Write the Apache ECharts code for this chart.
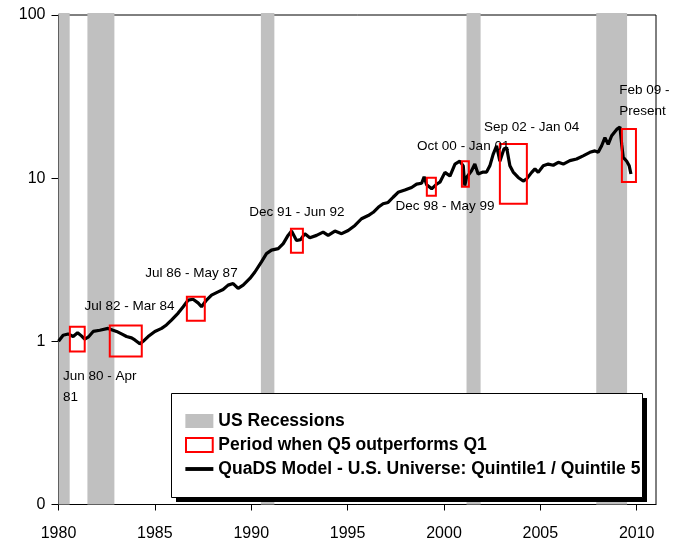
<!DOCTYPE html>
<html>
<head>
<meta charset="utf-8">
<script src="https://cdn.jsdelivr.net/npm/echarts@6/dist/echarts.min.js"></script>
<style>
  html, body { margin: 0; padding: 0; background: #fff; }
  #chart { width: 692px; height: 547px; }
</style>
</head>
<body>
<div id="chart"></div>
<script>
// QuaDS model ratio (decimal year, ratio)
var years = [
  1980.0, 1980.24, 1980.5, 1980.76, 1980.99, 1981.19, 1981.36, 1981.54, 1981.8, 1982.14,
  1982.57, 1982.83, 1983.01, 1983.27, 1983.53, 1983.79, 1983.96, 1984.22, 1984.39, 1984.65,
  1985.0, 1985.35, 1985.6, 1985.86, 1986.21, 1986.47, 1986.73, 1986.98, 1987.24, 1987.42,
  1987.68, 1987.94, 1988.28, 1988.54, 1988.8, 1989.06, 1989.32, 1989.58, 1989.93, 1990.19,
  1990.53, 1990.79, 1991.05, 1991.4, 1991.66, 1991.91, 1992.09, 1992.35, 1992.56, 1992.78,
  1993.04, 1993.39, 1993.73, 1993.99, 1994.34, 1994.69, 1995.03, 1995.38, 1995.72, 1996.07,
  1996.33, 1996.59, 1996.84, 1997.1, 1997.36, 1997.62, 1997.97, 1998.32, 1998.58, 1998.84,
  1998.97, 1999.1, 1999.36, 1999.62, 1999.79, 2000.05, 2000.31, 2000.57, 2000.82, 2001.0,
  2001.08, 2001.17, 2001.43, 2001.6, 2001.77, 2002.03, 2002.21, 2002.38, 2002.55, 2002.73,
  2002.9, 2003.11, 2003.25, 2003.42, 2003.59, 2003.85, 2004.11, 2004.29, 2004.55, 2004.72,
  2004.89, 2005.15, 2005.41, 2005.67, 2005.93, 2006.19, 2006.53, 2006.88, 2007.22, 2007.57,
  2007.83, 2008.0, 2008.18, 2008.35, 2008.52, 2008.7, 2008.96, 2009.13, 2009.22, 2009.3,
  2009.48, 2009.61, 2009.7
];
var ratio = [
  1.0, 1.09, 1.11, 1.07, 1.13, 1.08, 1.03, 1.06, 1.15, 1.17,
  1.20, 1.17, 1.15, 1.11, 1.07, 1.05, 1.02, 0.965, 1.0, 1.07,
  1.15, 1.20, 1.26, 1.35, 1.49, 1.63, 1.79, 1.81, 1.72, 1.63,
  1.79, 1.92, 2.01, 2.08, 2.21, 2.26, 2.11, 2.21, 2.43, 2.66,
  3.07, 3.45, 3.62, 3.70, 3.97, 4.46, 4.74, 4.15, 4.2, 4.57,
  4.32, 4.46, 4.67, 4.46, 4.74, 4.57, 4.78, 5.13, 5.64, 5.9,
  6.18, 6.63, 6.97, 7.1, 7.64, 8.19, 8.45, 8.77, 9.2, 9.31,
  10.2, 9.1, 8.6, 9.2, 9.45, 10.85, 10.3, 12.2, 12.7, 11.9,
  9.0, 10.1, 11.1, 12.2, 10.6, 10.9, 10.9, 11.9, 14.0, 15.8,
  12.7, 15.1, 15.4, 11.9, 10.9, 10.1, 9.6, 9.9, 10.85, 11.4,
  10.85, 11.9, 12.2, 12.0, 12.5, 12.2, 12.8, 13.1, 13.7, 14.4,
  14.7, 14.4, 15.8, 17.7, 16.1, 18.2, 19.9, 20.6, 16.1, 13.4,
  12.7, 11.9, 10.6
];

// US recessions: start, end
var recessionStart = [1980.0, 1981.5, 1990.5, 2001.17, 2007.9];
var recessionEnd = [1980.58, 1982.9, 1991.2, 2001.9, 2009.5];

// periods when Q5 outperforms Q1: x from, x to, ratio low, ratio high
var boxFrom = [1980.59, 1982.66, 1986.66, 1992.06, 1999.11, 2000.93, 2002.9, 2009.23];
var boxTo = [1981.36, 1984.32, 1987.59, 1992.68, 1999.58, 2001.29, 2004.3, 2009.96];
var boxLow = [0.865, 0.806, 1.339, 3.49, 7.8, 8.87, 6.96, 9.48];
var boxHigh = [1.23, 1.25, 1.877, 4.9, 10.06, 12.7, 16.2, 20.0];

// annotations
var noteText = ['Jun 80 - Apr\n81', 'Jul 82 - Mar 84', 'Jul 86 - May 87', 'Dec 91 - Jun 92',
  'Dec 98 - May 99', 'Oct 00 - Jan 01', 'Sep 02 - Jan 04', 'Feb 09 -\nPresent'];
var noteX = [1980.23, 1983.68, 1986.9, 1992.37, 2000.05, 2001.0, 2004.55, 2009.09];
var noteY = [0.527, 1.638, 2.62, 6.17, 6.77, 15.6, 20.6, 29.7];
var noteAlign = ['left', 'center', 'center', 'center', 'center', 'center', 'center', 'left'];

var xTicks = [1980, 1985, 1990, 1995, 2000, 2005, 2010];

var FONT = 'Liberation Sans, Arial, sans-serif';
var chart = echarts.init(document.getElementById('chart'));

var lineData = years.map(function (y, i) { return [y, ratio[i]]; });
var recData = recessionStart.map(function (s, i) { return [s, recessionEnd[i]]; });
var boxData = boxFrom.map(function (f, i) { return [f, boxTo[i], boxLow[i], boxHigh[i]]; });
var noteData = noteX.map(function (x, i) { return [x, noteY[i], i]; });

chart.setOption({
  animation: false,
  textStyle: { fontFamily: FONT },
  grid: {
    left: 58.5,
    right: 36,
    top: 15,
    bottom: 42.5,
    show: true,
    borderColor: '#000',
    borderWidth: 1
  },
  // legend frame with its hard drop shadow
  graphic: [
    { type: 'rect', z: 100, shape: { x: 176, y: 398, width: 471, height: 104 }, style: { fill: '#000' } },
    { type: 'rect', z: 101, shape: { x: 171.5, y: 393.5, width: 471, height: 104 },
      style: { fill: '#fff', stroke: '#000', lineWidth: 1 } }
  ],
  legend: {
    orient: 'vertical',
    left: 185,
    top: 412,
    padding: 0,
    z: 110,
    itemGap: 6,
    itemWidth: 28,
    itemHeight: 14,
    selectedMode: false,
    textStyle: { fontFamily: FONT, fontSize: 17.5, fontWeight: 'bold', color: '#000' },
    data: [
      { name: 'US Recessions', icon: 'rect', itemStyle: { color: '#c0c0c0' } },
      { name: 'Period when Q5 outperforms Q1', icon: 'path://M0,0H21V11H0Z',
        itemStyle: { color: '#fff', borderColor: '#ff0000', borderWidth: 2 } },
      { name: 'QuaDS Model - U.S. Universe: Quintile1 / Quintile 5', icon: 'path://M0,0H29V4H0Z',
        itemStyle: { color: '#000' } }
    ]
  },
  xAxis: {
    type: 'value',
    min: 1980,
    max: 2011,
    interval: 5,
    splitLine: { show: false },
    axisLine: { lineStyle: { color: '#000', width: 1 } },
    axisTick: { length: 6, lineStyle: { color: '#000' }, customValues: xTicks },
    axisLabel: {
      color: '#000',
      fontSize: 16,
      margin: 21,
      customValues: xTicks,
      formatter: function (v) { return String(v); }
    }
  },
  yAxis: {
    type: 'log',
    logBase: 10,
    min: 0.1,
    max: 100,
    splitLine: { show: false },
    axisLine: { show: true, lineStyle: { color: '#000', width: 1 } },
    axisTick: { show: true, length: 7, lineStyle: { color: '#000' } },
    axisLabel: {
      color: '#000',
      fontSize: 16,
      margin: 13,
      formatter: function (v) { return v < 1 ? '0' : String(Math.round(v)); }
    }
  },
  series: [
    {
      name: 'US Recessions',
      type: 'custom',
      z: 1,
      itemStyle: { color: '#c0c0c0' },
      data: recData,
      renderItem: function (params, api) {
        var a = api.coord([api.value(0), 100]);
        var b = api.coord([api.value(1), 0.1]);
        return {
          type: 'rect',
          shape: { x: a[0], y: a[1] - 2, width: b[0] - a[0], height: b[1] - a[1] + 2 },
          style: { fill: '#c0c0c0' }
        };
      }
    },
    {
      name: 'QuaDS Model - U.S. Universe: Quintile1 / Quintile 5',
      type: 'line',
      z: 3,
      symbol: 'none',
      lineStyle: { color: '#000', width: 3.2 },
      itemStyle: { color: '#000' },
      data: lineData
    },
    {
      name: 'Period when Q5 outperforms Q1',
      type: 'custom',
      z: 4,
      itemStyle: { color: '#fff', borderColor: '#ff0000' },
      data: boxData,
      renderItem: function (params, api) {
        var a = api.coord([api.value(0), api.value(3)]);
        var b = api.coord([api.value(1), api.value(2)]);
        return {
          type: 'rect',
          shape: { x: a[0], y: a[1], width: b[0] - a[0], height: b[1] - a[1] },
          style: { fill: 'none', stroke: '#ff0000', lineWidth: 2 }
        };
      }
    },
    {
      name: 'notes',
      type: 'custom',
      z: 5,
      data: noteData,
      renderItem: function (params, api) {
        var p = api.coord([api.value(0), api.value(1)]);
        var i = api.value(2);
        return {
          type: 'text',
          x: p[0],
          y: p[1],
          style: {
            text: noteText[i],
            fill: '#000',
            fontSize: 13.5,
            fontFamily: FONT,
            lineHeight: 21,
            align: noteAlign[i],
            verticalAlign: 'middle'
          }
        };
      }
    }
  ]
});
</script>
</body>
</html>
